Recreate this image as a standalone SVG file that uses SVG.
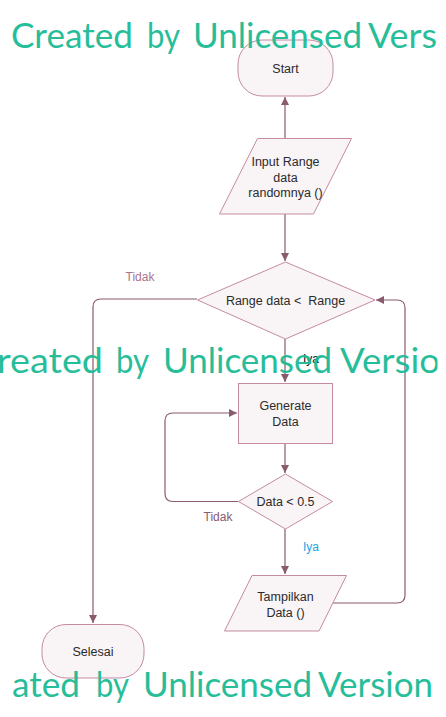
<svg xmlns="http://www.w3.org/2000/svg" width="446" height="717" viewBox="0 0 446 717">
<style>
.node{fill:#f9f4f6;stroke:#c48ba1;stroke-width:1}
.t{font-family:"Liberation Sans",Arial,sans-serif;font-size:12.5px;fill:#2b2b2b;text-anchor:middle}
.c{fill:none;stroke:#8a5a6e;stroke-width:1.2}
.lbl{font-family:"Liberation Sans",Arial,sans-serif;font-size:12px;text-anchor:middle}
.wm{font-family:Lato,"Open Sans",sans-serif;font-size:35px;fill:#1bbb95;opacity:0.95}
</style>
<defs>
<marker id="ah" markerWidth="9" markerHeight="9" refX="8" refY="4" orient="auto" markerUnits="userSpaceOnUse">
<path d="M0,0 L8,4 L0,8 Z" fill="#8a5a6e"/>
</marker>
<clipPath id="wmclip"><rect x="0" y="0" width="437.5" height="717"/></clipPath>
</defs>
<rect width="446" height="717" fill="#ffffff"/>
<g id="connectors">
<path class="c" d="M285 138 V97" marker-end="url(#ah)"/>
<path class="c" d="M285 214 V261" marker-end="url(#ah)"/>
<path class="c" d="M197 299 H101 Q93 299 93 307 V623" marker-end="url(#ah)"/>
<path class="c" d="M285 339 V382" marker-end="url(#ah)"/>
<path class="c" d="M285 443 V473" marker-end="url(#ah)"/>
<path class="c" d="M238 501.5 H173 Q165 501.5 165 493.5 V421 Q165 413 173 413 H237" marker-end="url(#ah)"/>
<path class="c" d="M285 529 V574" marker-end="url(#ah)"/>
<path class="c" d="M333 603 H397 Q405 603 405 595 V308 Q405 300 397 300 H376" marker-end="url(#ah)"/>
<text class="lbl" x="140" y="281" fill="#a8758a">Tidak</text>
<text class="lbl" x="311" y="363" fill="#111111">Iya</text>
<text class="lbl" x="218" y="521" fill="#8a5a70">Tidak</text>
<text class="lbl" x="311" y="551" fill="#1ba4e6">Iya</text>
</g>
<g id="start">
<rect class="node" x="238" y="40" width="95" height="56" rx="24" ry="24"/>
<text class="t" x="285.5" y="73">Start</text>
</g>
<g id="input">
<polygon class="node" points="257.5,138.5 351.5,138.5 313.5,214 219.5,214"/>
<text class="t" x="285.5" y="166">Input Range</text>
<text class="t" x="285.5" y="181.5">data</text>
<text class="t" x="285.5" y="197">randomnya ()</text>
</g>
<g id="decision1">
<polygon class="node" points="285.5,262 375,300 285.5,339 197.5,300"/>
<text class="t" x="285.5" y="305" xml:space="preserve">Range data &lt;  Range</text>
</g>
<g id="generate">
<rect class="node" x="238.5" y="383.5" width="94" height="60"/>
<text class="t" x="285.5" y="410">Generate</text>
<text class="t" x="285.5" y="426">Data</text>
</g>
<g id="decision2">
<polygon class="node" points="285.5,474 332.5,501.5 285.5,529 238.5,501.5"/>
<text class="t" x="285.5" y="506" fill="#111">Data &lt; 0.5</text>
</g>
<g id="tampilkan">
<polygon class="node" points="252,575.5 346.5,575.5 319,631 224.5,631"/>
<text class="t" x="285.5" y="600.5">Tampilkan</text>
<text class="t" x="285.5" y="616.5">Data ()</text>
</g>
<g id="selesai">
<rect class="node" x="42" y="624.5" width="102" height="53.5" rx="24" ry="24"/>
<text class="t" x="93" y="656">Selesai</text>
</g>
<g id="watermark" clip-path="url(#wmclip)">
<text class="wm" y="48"><tspan x="11" textLength="122" lengthAdjust="spacingAndGlyphs">Created</tspan><tspan x="147" textLength="33" lengthAdjust="spacingAndGlyphs">by</tspan><tspan x="193" textLength="169" lengthAdjust="spacingAndGlyphs">Unlicensed</tspan><tspan x="368" textLength="69" lengthAdjust="spacingAndGlyphs">Vers</tspan></text>
<text class="wm" y="373"><tspan x="-3" textLength="106" lengthAdjust="spacingAndGlyphs">reated</tspan><tspan x="116" textLength="33" lengthAdjust="spacingAndGlyphs">by</tspan><tspan x="163" textLength="169" lengthAdjust="spacingAndGlyphs">Unlicensed</tspan><tspan x="340" textLength="100" lengthAdjust="spacingAndGlyphs">Versio</tspan></text>
<text class="wm" y="697"><tspan x="12" textLength="68" lengthAdjust="spacingAndGlyphs">ated</tspan><tspan x="96" textLength="33" lengthAdjust="spacingAndGlyphs">by</tspan><tspan x="143" textLength="169" lengthAdjust="spacingAndGlyphs">Unlicensed</tspan><tspan x="318" textLength="115" lengthAdjust="spacingAndGlyphs">Version</tspan></text>
</g>
</svg>
